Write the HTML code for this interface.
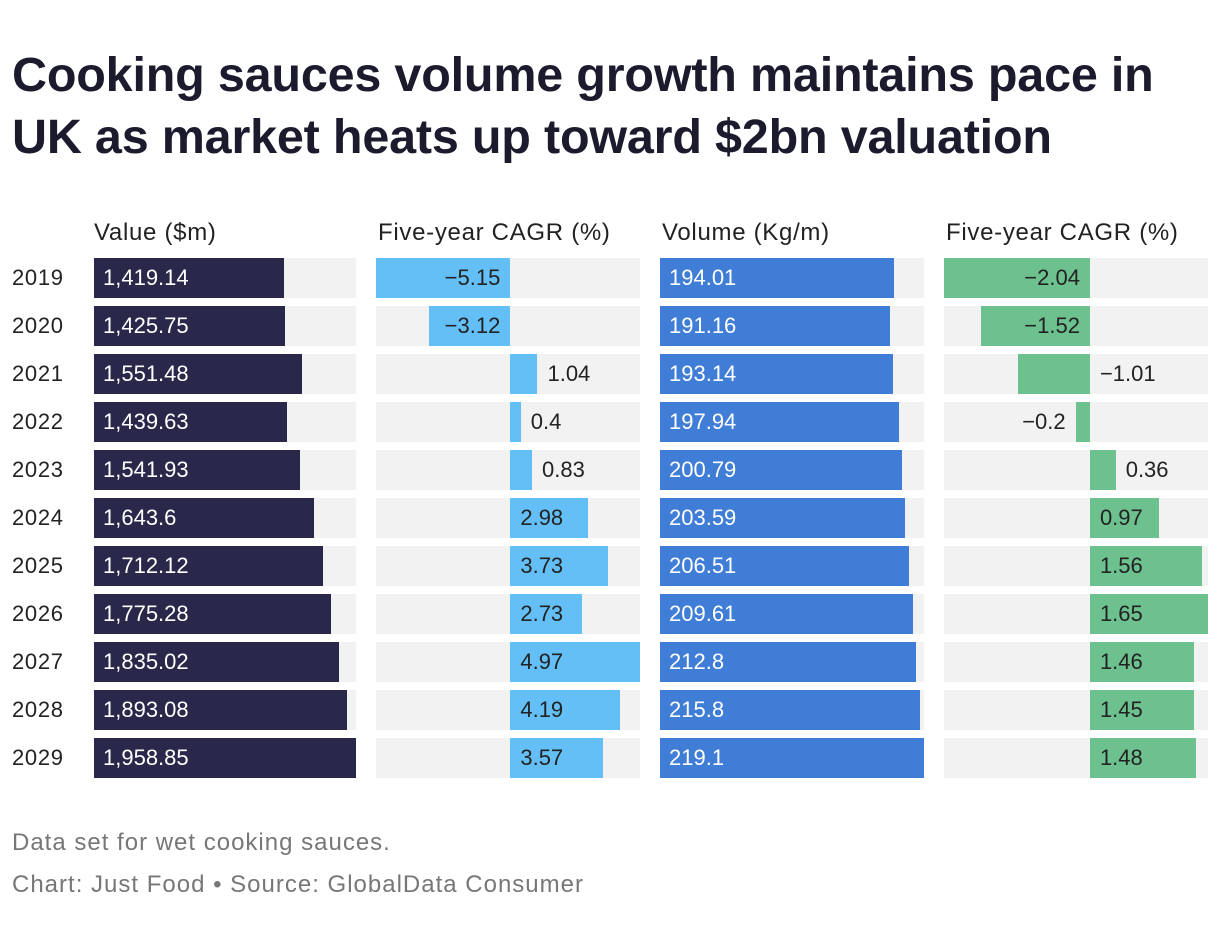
<!DOCTYPE html>
<html><head><meta charset="utf-8">
<style>
body{margin:0;width:1220px;height:942px;background:#fff;font-family:"Liberation Sans",sans-serif;position:relative;overflow:hidden}
.a{position:absolute;white-space:nowrap}
h1{position:absolute;left:12px;top:44px;margin:0;font-size:48.5px;line-height:62px;font-weight:bold;color:#1c1b2e;letter-spacing:-0.2px}
.hd{font-size:24px;letter-spacing:0.7px;color:#222;top:219px}
.yr{font-size:24px;letter-spacing:0.7px;color:#222;left:12px}
.lbl{font-size:22px;line-height:40px}
.foot{font-size:24px;letter-spacing:1px;color:#777;left:12px}
</style></head><body>
<h1>Cooking sauces volume growth maintains pace in<br>UK as market heats up toward $2bn valuation</h1>
<div class="a hd" style="left:94px">Value ($m)</div>
<div class="a hd" style="left:378px">Five-year CAGR (%)</div>
<div class="a hd" style="left:662px">Volume (Kg/m)</div>
<div class="a hd" style="left:946px">Five-year CAGR (%)</div>
<div id="chart"></div>
<div class="a foot" style="top:829px">Data set for wet cooking sauces.</div>
<div class="a foot" style="top:871px">Chart: Just Food • Source: GlobalData Consumer</div>
<script>
const years=[2019,2020,2021,2022,2023,2024,2025,2026,2027,2028,2029];
const valueM=[1419.14,1425.75,1551.48,1439.63,1541.93,1643.6,1712.12,1775.28,1835.02,1893.08,1958.85];
const valueCagr=[-5.15,-3.12,1.04,0.4,0.83,2.98,3.73,2.73,4.97,4.19,3.57];
const volume=[194.01,191.16,193.14,197.94,200.79,203.59,206.51,209.61,212.8,215.8,219.1];
const volumeCagr=[-2.04,-1.52,-1.01,-0.2,0.36,0.97,1.56,1.65,1.46,1.45,1.48];
const valueLabels=["1,419.14","1,425.75","1,551.48","1,439.63","1,541.93","1,643.6","1,712.12","1,775.28","1,835.02","1,893.08","1,958.85"];

const chart=document.getElementById('chart');
const ROW0=258,PITCH=48,BH=40,CW=264;
const cols=[
 {x:94,w:262,data:valueM,labels:valueLabels,color:'#29284a',name:'value',white:true},
 {x:376,w:CW,data:valueCagr,color:'#63bff5',name:'value-cagr'},
 {x:660,w:CW,data:volume,color:'#3f7dd6',name:'volume',white:true},
 {x:944,w:CW,data:volumeCagr,color:'#6cc18f',name:'volume-cagr'}
];
function fmt(v){return (v<0?'\u2212':'')+Math.abs(v);}
function div(cls,style,text){const d=document.createElement('div');d.className='a '+(cls||'');d.style.cssText=style;if(text!=null)d.textContent=text;chart.appendChild(d);return d;}
years.forEach((y,i)=>{
  const t=ROW0+i*PITCH;
  const yl=div('yr lbl','top:'+t+'px',String(y));
  
  
});
cols.forEach(c=>{
  const mn=Math.min(0,...c.data),mx=Math.max(0,...c.data);
  const sx=v=>c.x+(v-mn)/(mx-mn)*c.w;
  const z=sx(0);
  c.data.forEach((v,i)=>{
    const t=ROW0+i*PITCH;
    const bg=div('','left:'+c.x+'px;top:'+t+'px;width:'+c.w+'px;height:'+BH+'px;background:#f2f2f2');
    
    
    const x0=Math.min(z,sx(v)),x1=Math.max(z,sx(v));
    const b=div('','left:'+x0+'px;top:'+t+'px;width:'+(x1-x0)+'px;height:'+BH+'px;background:'+c.color);
    
    
    const txt=c.labels?c.labels[i]:fmt(v);
    const tw=txt.length*12+16;
    const bw=x1-x0;
    let st='top:'+t+'px;color:'+(c.white?'#fff':'#222')+';';
    if(c.white){st+='left:'+(x0+9)+'px';}
    else if(bw>=tw){
      st+= v<0?('left:'+(x0)+'px;width:'+(bw-10)+'px;text-align:right'):('left:'+(x0+10)+'px');
    } else {
      if(v<0){
        if(x0-c.x>=tw+10) st+='left:'+(x0-10-200)+'px;width:200px;text-align:right';
        else st+='left:'+(z+10)+'px';
      } else st+='left:'+(x1+10)+'px';
    }
    const l=div('lbl',st,txt);
    
    
  });
});
</script>
</body></html>
